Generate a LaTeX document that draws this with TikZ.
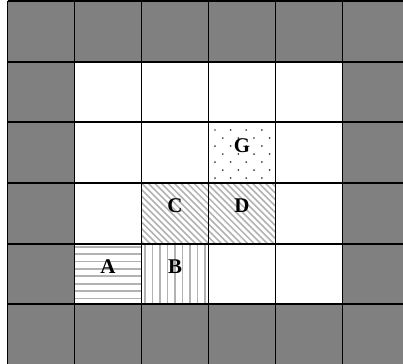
\documentclass[tikz,border=0pt]{standalone}
\usepackage{fontspec}
\setmainfont{Liberation Serif}
\definecolor{wallgray}{gray}{0.5}
\definecolor{stripegray}{gray}{0.7}
\definecolor{dotgray}{gray}{0.25}

\begin{document}
\begin{tikzpicture}[x=1.8cm, y=1.63cm,
    wall/.style={fill=wallgray},
    stripe/.style={draw=stripegray, line width=1.4pt},
    rule/.style={line width=1.5pt},
    tag/.style={font=\fontsize{16}{18}\selectfont\bfseries}]
  \useasboundingbox (-0.112,0.02) rectangle (5.903,6.016);
  % outer ring of wall cells
  \foreach \i in {0,...,5} {
    \fill[wall] (\i,0) rectangle +(1,1);
    \fill[wall] (\i,5) rectangle +(1,1);
    \fill[wall] (0,\i) rectangle +(1,1);
    \fill[wall] (5,\i) rectangle +(1,1);
  }
  % A: horizontal stripes
  \begin{scope}
    \clip (1,1) rectangle (2,2);
    \foreach \k in {0,...,7}
      \draw[stripe] (1,{1.95-\k*0.122}) -- ++(1,0);
  \end{scope}
  % B: vertical stripes
  \begin{scope}
    \clip (2,1) rectangle (3,2);
    \foreach \k in {0,...,8}
      \draw[stripe] ({2.052+\k*0.112},1) -- ++(0,1);
  \end{scope}
  % C and D: diagonal stripes
  \begin{scope}
    \clip (2,2) rectangle (4,3);
    \foreach \k in {-10,...,22}
      \draw[stripe, line width=1.2pt] (2,3) ++(\k*0.175cm,0) -- ++(2cm,-2cm);
  \end{scope}
  % G: dots
  \begin{scope}
    \clip (3,3) rectangle (4,4);
    \foreach \r in {0,...,6}
      \foreach \c in {0,...,3}
        \fill[dotgray] ({3.097+\c*0.233+mod(\r,2)*0.116},{3.873-\r*0.132}) circle (0.75pt);
  \end{scope}
  % grid lines
  \foreach \i in {0,...,6} {
    \draw[rule] (\i,0) -- (\i,6);
    \draw[rule] (0,\i) -- (6,\i);
  }
  % labels
  \node[tag] (a) at (1.5,1.62) {A};
  \node[tag] (b) at (2.5,1.62) {B};
  \node[tag] (c) at (2.5,2.62) {C};
  \node[tag] (d) at (3.5,2.62) {D};
  \node[tag] (g) at (3.5,3.62) {G};
\end{tikzpicture}
\end{document}
